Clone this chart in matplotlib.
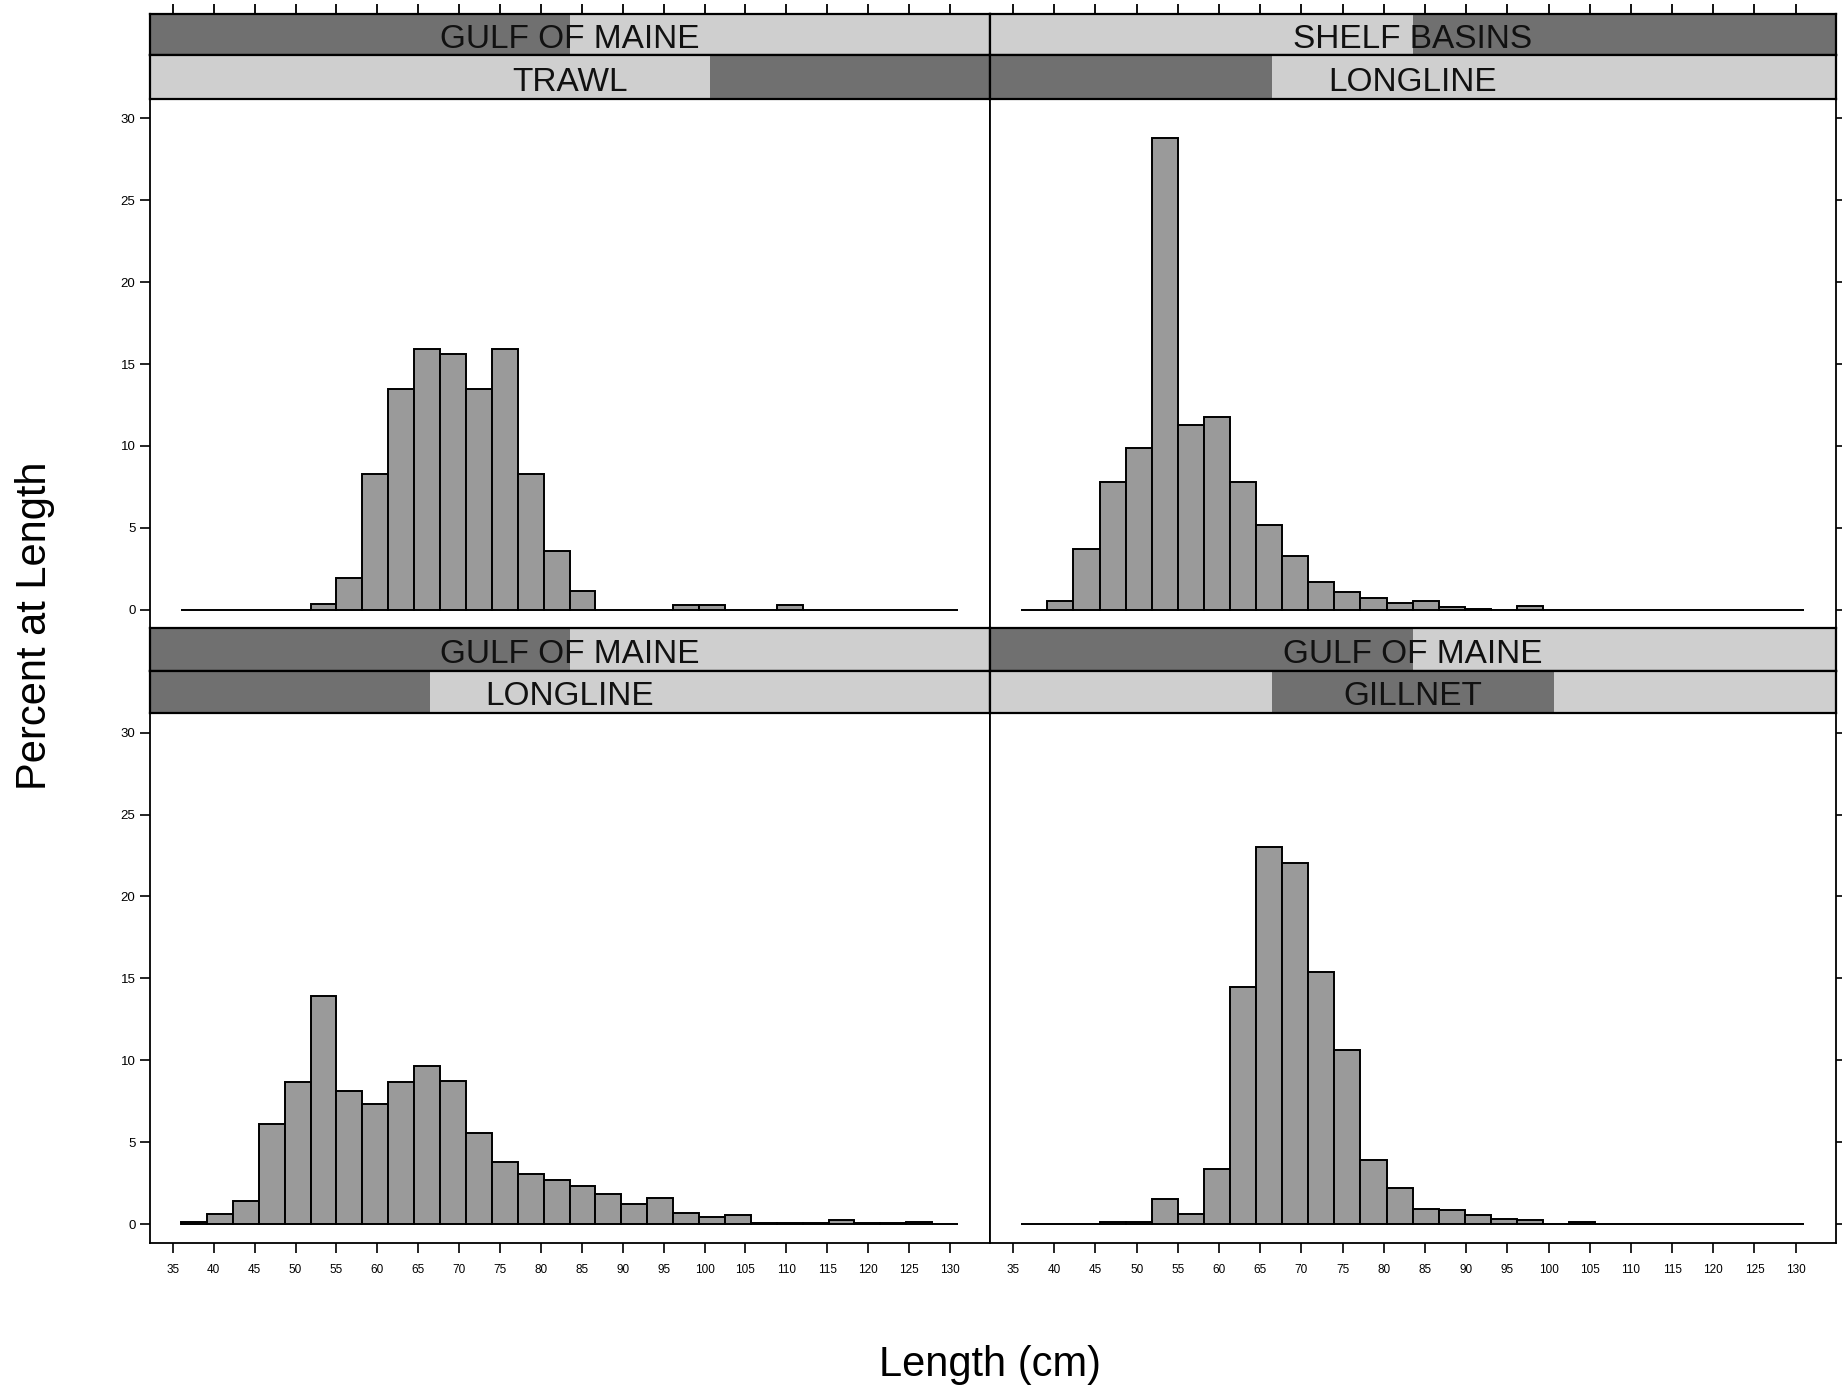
import matplotlib.pyplot as plt
import numpy as np

plt.rcParams['font.family'] = ['Liberation Sans', 'DejaVu Sans']

# common breaks (36 to 131 cm, 30 bins) shared by all panels
breaks = np.linspace(36, 131, 31)

# percent at length per bin
gom_trawl = [0, 0, 0, 0, 0, 0.35, 1.95, 8.3, 13.5, 15.9, 15.6, 13.5, 15.9, 8.3, 3.6,
             1.15, 0, 0, 0, 0.3, 0.3, 0, 0, 0.3, 0, 0, 0, 0, 0, 0]
sb_longline = [0, 0.5, 3.7, 7.8, 9.9, 28.8, 11.25, 11.75, 7.8, 5.15, 3.3, 1.7, 1.05, 0.7, 0.4,
               0.5, 0.17, 0.06, 0, 0.25, 0, 0, 0, 0, 0, 0, 0, 0, 0, 0]
gom_longline = [0.16, 0.6, 1.42, 6.1, 8.66, 13.9, 8.1, 7.35, 8.66, 9.63, 8.72, 5.54, 3.8, 3.04, 2.68,
                2.33, 1.83, 1.26, 1.62, 0.71, 0.45, 0.55, 0.05, 0.05, 0.08, 0.24, 0.05, 0.08, 0.14, 0]
gom_gillnet = [0, 0, 0, 0.14, 0.14, 1.52, 0.61, 3.34, 14.45, 23.0, 22.05, 15.4, 10.6, 3.89, 2.2,
               0.91, 0.85, 0.55, 0.3, 0.24, 0, 0.14, 0, 0, 0, 0, 0, 0, 0, 0]

region_levels = ['GULF OF MAINE', 'SHELF BASINS']
gear_levels = ['LONGLINE', 'GILLNET', 'TRAWL']

# panel: (row, col, region, gear, values)
panels = [
    (0, 0, 'GULF OF MAINE', 'TRAWL', gom_trawl),
    (0, 1, 'SHELF BASINS', 'LONGLINE', sb_longline),
    (1, 0, 'GULF OF MAINE', 'LONGLINE', gom_longline),
    (1, 1, 'GULF OF MAINE', 'GILLNET', gom_gillnet),
]

xticks = np.arange(35, 131, 5)
yticks = np.arange(0, 31, 5)
xlim = (32.2, 134.9)
ylim = (-1.15, 31.2)

W, H = 1842, 1388
fig = plt.figure(figsize=(W / 100, H / 100), dpi=100)

col_x = [(150, 990), (990, 1836)]
# (strip1 top, strip2 top, plot top, plot bottom) in pixels
row_y = [(14, 55, 98.7, 628.5), (628.5, 670.8, 713, 1243)]

dark = '#707070'
light = '#cfcfcf'


def box(x0, x1, ytop, ybot):
    return [x0 / W, 1 - ybot / H, (x1 - x0) / W, (ybot - ytop) / H]


def strip(ax, label, levels, top_ticks):
    ax.set_xlim(xlim)
    ax.set_ylim(0, 1)
    ax.set_facecolor(light)
    n = len(levels)
    k = levels.index(label)
    span = (xlim[1] - xlim[0]) / n
    ax.axvspan(xlim[0] + k * span, xlim[0] + (k + 1) * span, color=dark, lw=0)
    ax.text(0.5, 0.38, label, transform=ax.transAxes, ha='center', va='center',
            fontsize=24, color='#111111')
    ax.set_yticks([])
    for s in ax.spines.values():
        s.set_linewidth(1.6)
    if top_ticks:
        ax.xaxis.tick_top()
        ax.set_xticks(xticks)
        ax.tick_params(axis='x', direction='out', length=7, width=1.3, labeltop=False)
    else:
        ax.set_xticks([])


for row, col, region, gear, vals in panels:
    x0, x1 = col_x[col]
    s1, s2, p0, p1 = row_y[row]

    ax = fig.add_axes(box(x0, x1, p0, p1))
    ax.bar(breaks[:-1], vals, width=np.diff(breaks), align='edge',
           color='#9a9a9a', edgecolor='black', linewidth=1.4)
    ax.set_xlim(xlim)
    ax.set_ylim(ylim)
    for s in ax.spines.values():
        s.set_linewidth(1.3)

    ax.set_yticks(yticks)
    if col == 0:
        ax.tick_params(axis='y', direction='out', length=7, width=1.2, labelsize=9.5,
                       left=True, right=False, labelleft=True)
    else:
        ax.tick_params(axis='y', direction='out', length=7, width=1.2,
                       left=False, right=True, labelleft=False, labelright=False)

    if row == 1:
        ax.set_xticks(xticks)
        ax.tick_params(axis='x', direction='out', length=7, width=1.2, labelsize=8.5, pad=8)
    else:
        ax.set_xticks([])

    ax1 = fig.add_axes(box(x0, x1, s1, s2))
    strip(ax1, region, region_levels, top_ticks=(row == 0))
    ax2 = fig.add_axes(box(x0, x1, s2, p0))
    strip(ax2, gear, gear_levels, top_ticks=False)

fig.text(35 / W, 1 - 626 / H, 'Percent at Length', rotation=90, ha='center', va='center',
         fontsize=30)
fig.text(990 / W, 1 - 1365 / H, 'Length (cm)', ha='center', va='center', fontsize=30)

fig.savefig('out.png', dpi=100)
